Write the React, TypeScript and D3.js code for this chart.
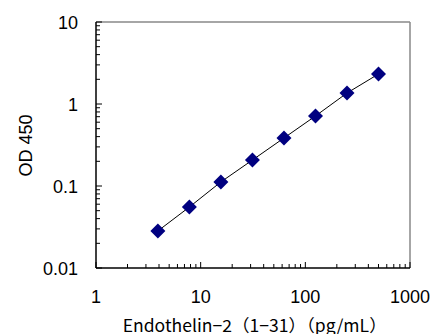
import React from "react";
import * as d3 from "d3";

const concentrations = [3.9, 7.8, 15.6, 31.25, 62.5, 125, 250, 500];
const od450 = [0.0283, 0.0554, 0.112, 0.2075, 0.385, 0.714, 1.36, 2.32];
const xTicks = [1, 10, 100, 1000];
const yTicks = [0.01, 0.1, 1, 10];
const xTickLabels = ["1", "10", "100", "1000"];
const yTickLabels = ["0.01", "0.1", "1", "10"];

export default function App() {
  const W = 435, H = 334;
  const left = 96, right = 410, top = 22, bottom = 268;
  const x = d3.scaleLog().domain([1, 1000]).range([left, right]);
  const y = d3.scaleLog().domain([0.01, 10]).range([bottom, top]);
  const pts = concentrations.map((c, i) => [x(c), y(od450[i])] as [number, number]);
  const line = d3.line()(pts) || "";

  const xMinor: number[] = [];
  for (let d = 1; d < 1000; d *= 10) for (let k = 2; k <= 9; k++) xMinor.push(d * k);
  const yMinor: number[] = [];
  for (let d = 0.01; d < 9; d *= 10) for (let k = 2; k <= 9; k++) yMinor.push(d * k);

  const font = "'Liberation Sans', Arial, sans-serif";
  const ds = 7.5;
  return (
    <svg width={W} height={H} style={{ position: "absolute", left: 0, top: 0 }}>
      <rect width={W} height={H} fill="white" />
      <line x1={left} y1={top} x2={right} y2={top} stroke="#888" strokeWidth={1.5} />
      <line x1={right} y1={top} x2={right} y2={bottom} stroke="#888" strokeWidth={1.5} />
      {xMinor.map((v, i) => (
        <line key={"xm" + i} x1={x(v)} x2={x(v)} y1={bottom} y2={bottom - 4} stroke="black" strokeWidth={1} />
      ))}
      {xTicks.map((v, i) => (
        <line key={"xM" + i} x1={x(v)} x2={x(v)} y1={bottom} y2={bottom - 6} stroke="black" strokeWidth={1} />
      ))}
      {yMinor.map((v, i) => (
        <line key={"ym" + i} x1={left} x2={left + 4} y1={y(v)} y2={y(v)} stroke="black" strokeWidth={1} />
      ))}
      {yTicks.map((v, i) => (
        <line key={"yM" + i} x1={left} x2={left + 6} y1={y(v)} y2={y(v)} stroke="black" strokeWidth={1} />
      ))}
      <line x1={left} y1={top} x2={left} y2={bottom} stroke="black" strokeWidth={1.5} />
      <line x1={left} y1={bottom} x2={right} y2={bottom} stroke="black" strokeWidth={1.5} />
      {xTicks.map((v, i) => (
        <text key={"xl" + i} x={x(v)} y={bottom + 35} textAnchor="middle" fontFamily={font} fontSize={18} fill="black">
          {xTickLabels[i]}
        </text>
      ))}
      {yTicks.map((v, i) => (
        <text key={"yl" + i} x={left - 18} y={y(v) + 7} textAnchor="end" fontFamily={font} fontSize={18} fill="black">
          {yTickLabels[i]}
        </text>
      ))}
      <path d={line} fill="none" stroke="black" strokeWidth={1} />
      {pts.map(([px, py], i) => (
        <path key={"p" + i} d={`M${px},${py - ds}L${px + ds},${py}L${px},${py + ds}L${px - ds},${py}Z`} fill="#000080" />
      ))}
      <text x={0} y={0} transform={`translate(32,145.5) rotate(-90)`} textAnchor="middle" fontFamily={font} fontSize={18} fill="black">
        OD 450
      </text>
      <text x={254.7} y={332} textAnchor="middle" fontFamily="'Noto Sans CJK JP', sans-serif" fontSize={17} textLength={264} lengthAdjust="spacingAndGlyphs" fill="black">
        Endothelin−2（1−31）（pg/mL）
      </text>
    </svg>
  );
}
